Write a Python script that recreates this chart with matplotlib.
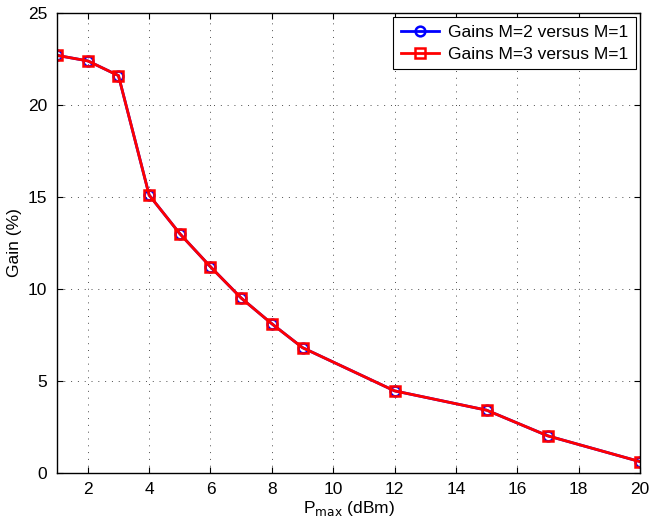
import matplotlib
matplotlib.use("Agg")
import matplotlib.pyplot as plt

# transmit power budget (dBm)
p_max = [1, 2, 3, 4, 5, 6, 7, 8, 9, 12, 15, 17, 20]
# relative gains (%)
gain_m2 = [22.7, 22.4, 21.6, 15.1, 13.0, 11.2, 9.5, 8.1, 6.8, 4.45, 3.4, 2.0, 0.6]
gain_m3 = [22.7, 22.4, 21.6, 15.1, 13.0, 11.2, 9.5, 8.1, 6.8, 4.45, 3.4, 2.0, 0.6]

x_ticks = [2, 4, 6, 8, 10, 12, 14, 16, 18, 20]
y_ticks = [0, 5, 10, 15, 20, 25]

plt.rcParams["font.family"] = ["Liberation Sans", "DejaVu Sans"]
plt.rcParams["font.size"] = 12.5

fig = plt.figure(figsize=(6.49, 5.24), dpi=100)
ax = fig.add_axes([0.088, 0.098, 0.898, 0.877])

ax.plot(p_max, gain_m2, color="blue", linewidth=2, marker="o", markersize=7,
        markerfacecolor="none", markeredgewidth=1.8, label="Gains M=2 versus M=1")
ax.plot(p_max, gain_m3, color="red", linewidth=2, marker="s", markersize=7,
        markerfacecolor="none", markeredgewidth=1.8, label="Gains M=3 versus M=1")

ax.set_xlim(1, 20)
ax.set_ylim(0, 25)
ax.set_xticks(x_ticks)
ax.set_yticks(y_ticks)
ax.grid(True, color="black", linestyle=(0, (1, 6)), linewidth=0.7, alpha=0.7)
ax.tick_params(direction="in", length=4, width=0.8, top=True, right=True, pad=7)
for s in ax.spines.values():
    s.set_linewidth(1.0)

ax.set_xlabel(r"P$_{\mathrm{max}}$ (dBm)", labelpad=1)
ax.set_ylabel("Gain (%)", labelpad=4)

leg = ax.legend(loc="upper right", fancybox=False, edgecolor="black",
                framealpha=1, borderaxespad=0.25, handlelength=2.2,
                borderpad=0.45, labelspacing=0.35, handletextpad=0.5)
leg.get_frame().set_linewidth(0.8)

fig.savefig("out.png", dpi=100)
